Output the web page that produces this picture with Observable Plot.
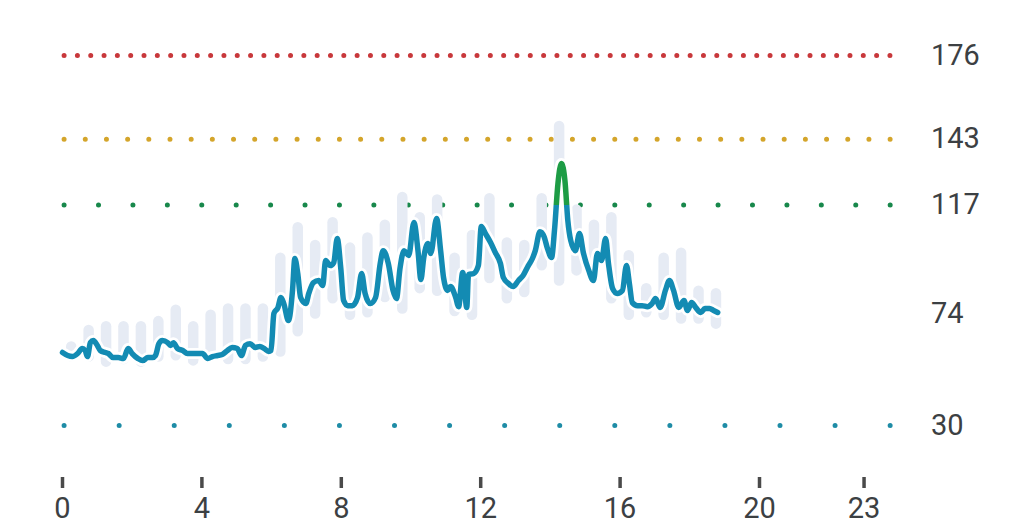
<!DOCTYPE html>
<html><head><meta charset="utf-8">
<script src="https://cdn.jsdelivr.net/npm/d3@7"></script>
<script src="https://cdn.jsdelivr.net/npm/@observablehq/plot@0.6"></script>
<style>html,body{margin:0;padding:0;background:#fff;}</style>
</head><body><div id="chart"></div>
<script>
// Half-hour range bars (hour of day at centre, low, high)
const barHours = [0.25,0.75,1.25,1.75,2.25,2.75,3.25,3.75,4.25,4.75,
  5.25,5.75,6.25,6.75,7.25,7.75,8.25,8.75,9.25,9.75,
  10.25,10.75,11.25,11.75,12.25,12.75,13.25,13.75,14.25,14.75,
  15.25,15.75,16.25,16.75,17.25,17.75,18.25,18.75];
const barLow = [57,57,55,56,55,57,57.5,55.5,57,56,
  56,57,59,67,74,80,73.5,74.5,80.5,76,
  84,83,75,73.5,88,80,82.5,93,87,91,
  91,80,73.5,74.5,73.5,72,72,70];
const barHigh = [61,67.5,69,69,69,71,75.5,69,73.5,76,
  76,76,96,108,101,110,100,104,109,120,
  112,119,96,105,119.5,102,101,119.5,148,115,
  109,112,97,84,96,98,83,82];

// Measured series: minutes since midnight and value
const lineMinutes = [0,9,17,26,34,39,43,48,53,60,
  65,74,79,87,96,105,113,120,130,138,
  147,155,160,166,172,181,186,191,198,207,
  215,224,232,241,250,258,267,275,284,292,
  301,308,315,323,332,340,347,355,359,364,
  371,376,381,389,396,400,405,410,419,424,
  432,441,448,453,461,467,473,479,484,491,
  499,508,515,521,530,539,547,552,561,569,
  575,581,588,596,605,612,617,622,629,634,
  644,651,656,663,668,677,682,689,696,699,
  708,716,721,728,737,745,754,759,768,776,
  785,793,802,809,814,822,829,835,842,847,
  853,859,865,870,875,883,890,897,906,914,
  921,928,935,940,947,955,964,971,976,981,
  990,998,1007,1015,1021,1029,1038,1045,1052,1061,
  1070,1076,1083,1090,1099,1106,1114,1121,1128];
const lineValues = [58.8,57.6,57.2,58.4,60.4,59.6,57.2,62.7,63.5,61.6,
  59.6,58.8,58.4,56.8,56.8,56.4,60.4,58.4,56.4,55.6,
  56.8,56.8,57.6,62.3,63.5,62.7,61.6,62.7,60.4,59.6,
  58.4,58.4,58.4,58.4,56.4,57.2,57.6,58.0,59.6,60.8,
  60.4,57.6,61.6,62.3,60.8,61.2,60.4,59.2,59.6,74.2,
  76.6,80.5,78.1,71.4,83.3,95.9,90.0,80.5,78.1,82.1,
  86.4,87.2,85.2,95.1,93.1,94.3,103.8,92.3,79.3,77.3,
  77.3,80.5,90.0,82.1,78.1,80.5,93.9,99.0,93.9,83.3,
  80.1,91.9,99.0,97.1,110.1,99.0,87.6,96.3,101.8,97.9,
  111.7,99.0,88.4,83.3,84.8,80.5,76.9,90.4,76.6,89.6,
  90.0,93.1,108.5,105.8,102.2,98.3,93.9,88.4,86.0,84.8,
  87.2,89.2,93.1,95.9,99.0,106.5,104.6,99.8,96.3,106.9,
  125.5,133.4,126.7,110.9,103.0,99.0,105.8,97.9,91.2,87.2,
  97.9,95.1,103.8,93.9,84.1,82.1,83.3,93.1,86.0,78.5,
  77.3,77.3,76.9,78.1,80.1,76.6,83.3,87.2,83.3,76.6,
  79.3,75.4,78.5,76.6,74.6,76.2,76.2,75.4,74.6];

const thresholdValues = [176, 143, 117, 30];
const thresholdColors = ["#c8383b", "#d4a52b", "#18884b", "#1e8ca6"];
const thresholdDash = ["0 13.32", "0 21.18", "0 34.42", "0 55.07"];
const yTicks = [176, 143, 117, 74, 30];
const xTicks = [0, 4, 8, 12, 16, 20, 23];
const alertLevel = 117;
const lineColor = "#138bb3";
const alertColor = "#1d9c45";

const bars = barHours.map((h, i) => ({h, lo: barLow[i], hi: barHigh[i]}));
const series = lineMinutes.map((m, i) => ({h: m / 60, v: lineValues[i]}));
const thresholds = thresholdValues.map((v, i) => ({v, color: thresholdColors[i], dash: thresholdDash[i]}));

const W = 1024, H = 529;
const chart = Plot.plot({
  width: W, height: H,
  marginLeft: 62, marginRight: 125.6, marginTop: 0, marginBottom: 52,
  style: {fontFamily: "Roboto, 'Noto Sans', sans-serif", background: "white", overflow: "visible"},
  x: {domain: [0, 24], label: null},
  y: {domain: [30, 176], range: [425, 55], label: null},
  marks: [
    ...thresholds.map(t => Plot.ruleY([t], {
      y: "v", x1: 0.06, x2: 23.77, stroke: t.color, strokeWidth: 5,
      strokeLinecap: "round", strokeDasharray: t.dash
    })),
    Plot.ruleX(bars, {x: "h", y1: "lo", y2: "hi", stroke: "#e6ebf4", strokeWidth: 10.5, strokeLinecap: "round"}),
    Plot.line(series, {x: "h", y: "v", stroke: "white", strokeWidth: 11, curve: "monotone-x", strokeLinejoin: "round", strokeLinecap: "round"}),
    Plot.line(series, {x: "h", y: "v", stroke: "url(#levelGrad)", strokeWidth: 5.5, curve: "monotone-x", strokeLinejoin: "round", strokeLinecap: "round"}),
    Plot.axisX({ticks: xTicks, tickSize: 11, tickPadding: 9, stroke: "#4a4a4a", strokeWidth: 3.5,
      color: "#3c4043", fill: "#3c4043", fontSize: 29, tickFormat: d => String(d), label: null}),
    Plot.axisY({anchor: "right", ticks: yTicks, tickSize: 0, tickPadding: 32,
      color: "#3c4043", fill: "#3c4043", fontSize: 29, tickFormat: d => String(d), label: null})
  ]
});

const yLevel = chart.scale("y").apply(alertLevel);
const off = yLevel / H;
const grad = d3.select(chart).insert("defs", ":first-child")
  .append("linearGradient").attr("id", "levelGrad")
  .attr("gradientUnits", "userSpaceOnUse")
  .attr("x1", 0).attr("x2", 0).attr("y1", 0).attr("y2", H);
grad.append("stop").attr("offset", off).attr("stop-color", alertColor);
grad.append("stop").attr("offset", off).attr("stop-color", lineColor);

document.getElementById("chart").appendChild(chart);
</script>
</body></html>
